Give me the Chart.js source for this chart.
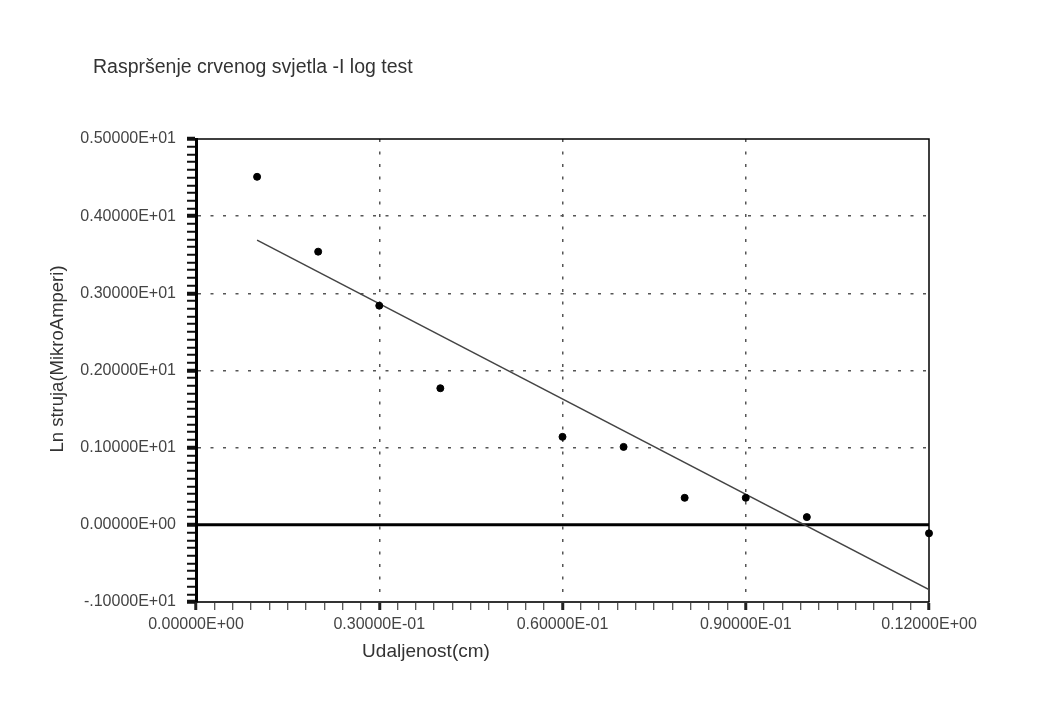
<!DOCTYPE html>
<html>
<head>
<meta charset="utf-8">
<script src="https://cdn.jsdelivr.net/npm/chart.js@4.4.1/dist/chart.umd.min.js"></script>
<style>
  html, body { margin: 0; padding: 0; background: #fff; }
  #wrap { width: 1041px; height: 708px; position: relative; }
</style>
</head>
<body>
<div id="wrap"><canvas id="plot"></canvas></div>
<script>
// measured points (distance in cm, ln of current)
var distX = [0.01, 0.02, 0.03, 0.04, 0.06, 0.07, 0.08, 0.09, 0.10, 0.12];
var lnI   = [4.51, 3.54, 2.84, 1.77, 1.14, 1.01, 0.35, 0.35, 0.10, -0.11];
// fitted line, end points
var fitX = [0.01, 0.12];
var fitY = [3.69, -0.84];

var chartTitle = 'Raspršenje crvenog svjetla -I log test';
var xTitle = 'Udaljenost(cm)';
var yTitle = 'Ln struja(MikroAmperi)';

var FONT = '"Liberation Sans", Arial, sans-serif';

// 0.30000E-01 style labels
function fmtE(v) {
  if (Math.abs(v) < 1e-12) return '0.00000E+00';
  var e = Math.floor(Math.log10(Math.abs(v))) + 1;
  var m = (Math.abs(v) / Math.pow(10, e)).toFixed(5);
  if (m === '1.00000') { e += 1; m = '0.10000'; }
  var s = v < 0 ? '-' + m.slice(1) : m;
  return s + 'E' + (e < 0 ? '-' : '+') + String(Math.abs(e)).padStart(2, '0');
}
function isMajor(v, step) {
  return Math.abs(v / step - Math.round(v / step)) < 1e-6;
}

var pts = distX.map(function(x, i) { return {x: x, y: lnI[i]}; });
var fit = fitX.map(function(x, i) { return {x: x, y: fitY[i]}; });

// frame, zero line and the texts
var decor = {
  id: 'decor',
  beforeDatasetsDraw: function(chart) {
    var ctx = chart.ctx, a = chart.chartArea;
    var y0 = chart.scales.y.getPixelForValue(0);
    ctx.save();
    ctx.strokeStyle = '#000';
    ctx.lineWidth = 3;
    ctx.beginPath();
    ctx.moveTo(a.left, y0);
    ctx.lineTo(a.right, y0);
    ctx.stroke();
    ctx.lineWidth = 1.5;
    ctx.beginPath();
    ctx.moveTo(a.left, a.top);
    ctx.lineTo(a.right, a.top);
    ctx.lineTo(a.right, a.bottom);
    ctx.stroke();
    ctx.restore();
  },
  afterDraw: function(chart) {
    var ctx = chart.ctx;
    ctx.save();
    ctx.fillStyle = '#333';
    ctx.textBaseline = 'alphabetic';
    ctx.textAlign = 'left';
    ctx.font = '19.5px ' + FONT;
    ctx.fillText(chartTitle, 93, 73);
    ctx.textAlign = 'center';
    ctx.font = '19px ' + FONT;
    ctx.fillText(xTitle, 426, 657);
    ctx.translate(63, 359);
    ctx.rotate(-Math.PI / 2);
    ctx.font = '18.5px ' + FONT;
    ctx.fillText(yTitle, 0, 0);
    ctx.restore();
  }
};

new Chart(document.getElementById('plot'), {
  type: 'scatter',
  data: {
    datasets: [{
      data: pts,
      backgroundColor: '#000',
      borderColor: '#000',
      pointRadius: 3.5,
      showLine: false,
      clip: false
    }, {
      data: fit,
      showLine: true,
      borderColor: '#444',
      borderWidth: 1.5,
      pointRadius: 0
    }]
  },
  options: {
    responsive: true,
    maintainAspectRatio: false,
    animation: false,
    layout: { padding: { left: 0, top: 139, right: 112, bottom: 0 } },
    plugins: {
      legend: { display: false },
      tooltip: { enabled: false }
    },
    scales: {
      x: {
        type: 'linear',
        min: 0,
        max: 0.12,
        afterFit: function(s) { s.height = 106; },
        border: { display: true, color: '#333', width: 2, dash: [3, 9.5] },
        grid: {
          color: function(c) {
            var v = c.tick.value;
            return (isMajor(v, 0.03) && v > 0.001 && v < 0.119) ? '#555' : 'rgba(0,0,0,0)';
          },
          lineWidth: 1.5,
          tickLength: 8,
          tickColor: '#222',
          tickWidth: function(c) { return isMajor(c.tick.value, 0.03) ? 3 : 1; },
          tickBorderDash: []
        },
        ticks: {
          stepSize: 0.003,
          autoSkip: false,
          maxRotation: 0,
          padding: 5,
          color: '#444',
          font: { family: FONT, size: 16 },
          callback: function(v) { return isMajor(v, 0.03) ? fmtE(v) : ''; }
        }
      },
      y: {
        type: 'linear',
        min: -1,
        max: 5,
        afterFit: function(s) { s.width = 196; },
        border: { display: true, color: '#000', width: 3, dash: [3, 9.5] },
        grid: {
          color: function(c) {
            var v = c.tick.value;
            return (isMajor(v, 1) && v > 0.5 && v < 4.5) ? '#555' : 'rgba(0,0,0,0)';
          },
          lineWidth: 1.5,
          tickLength: 9,
          tickColor: '#111',
          tickWidth: function(c) { return isMajor(c.tick.value, 1) ? 4 : 2; },
          tickBorderDash: []
        },
        ticks: {
          stepSize: 0.1,
          autoSkip: false,
          padding: 11,
          color: '#444',
          font: { family: FONT, size: 16 },
          callback: function(v) { return isMajor(v, 1) ? fmtE(v) : ''; }
        }
      }
    }
  },
  plugins: [decor]
});
</script>
</body>
</html>
